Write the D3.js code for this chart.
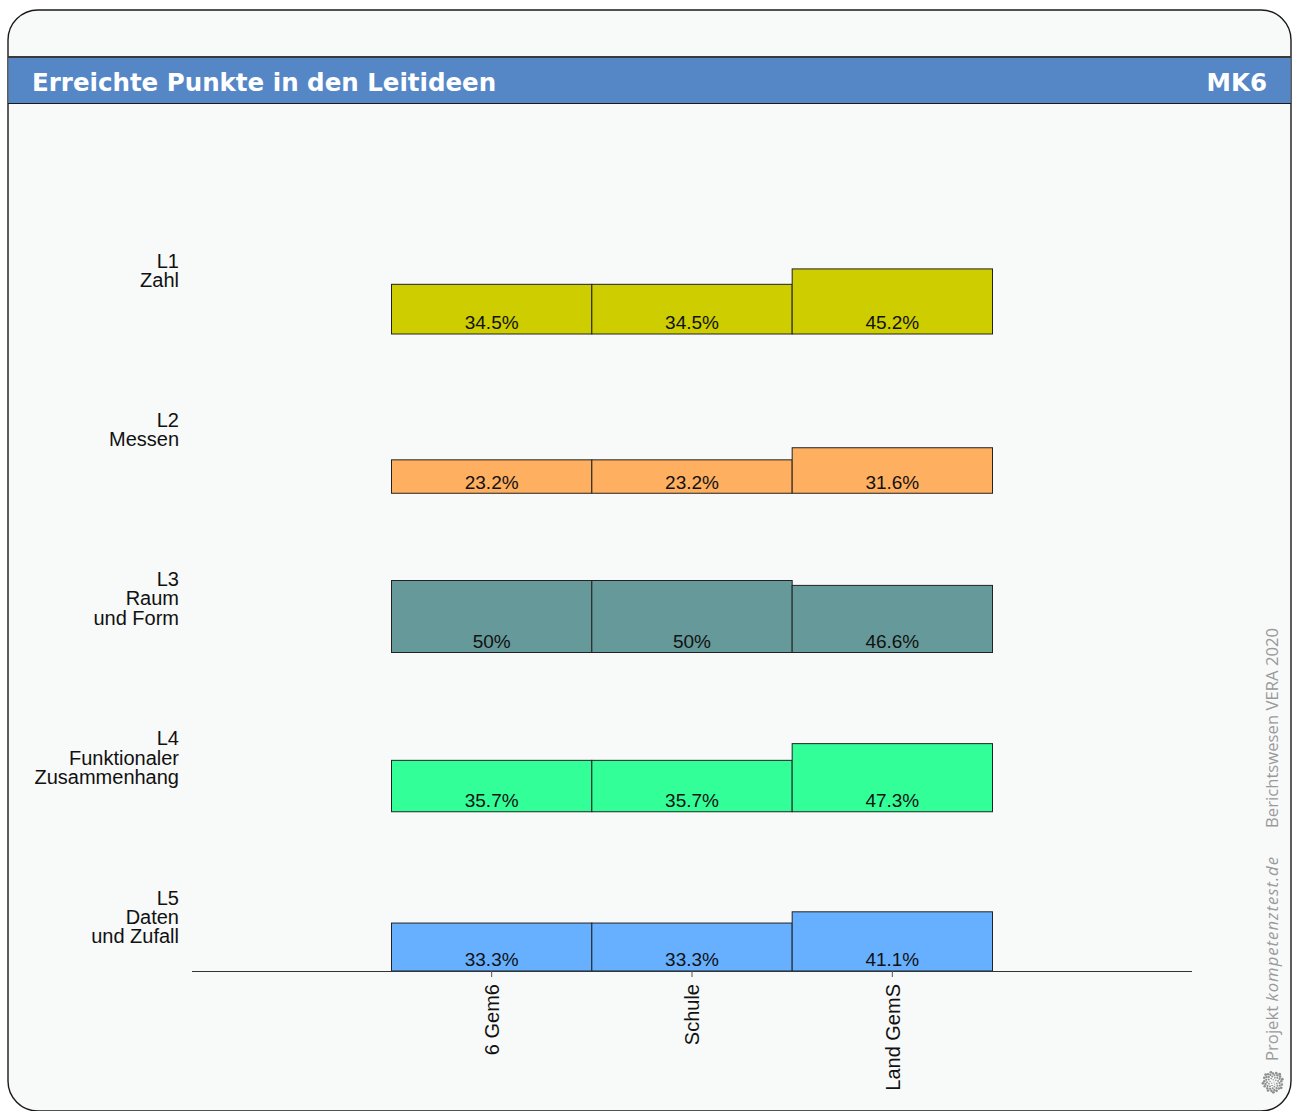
<!DOCTYPE html>
<html>
<head>
<meta charset="utf-8">
<script src="https://cdn.jsdelivr.net/npm/d3@7"></script>
<style>
  html, body { margin: 0; padding: 0; background: #ffffff; }
  svg { display: block; }
</style>
</head>
<body>
<svg id="chart" width="1297" height="1111"></svg>
<script>
// ---- data ----
const title = "Erreichte Punkte in den Leitideen";
const code = "MK6";
const groups = ["6 Gem6", "Schule", "Land GemS"];
const rowLabels = [
  ["L1", "Zahl"],
  ["L2", "Messen"],
  ["L3", "Raum", "und Form"],
  ["L4", "Funktionaler", "Zusammenhang"],
  ["L5", "Daten", "und Zufall"]
];
const rowKeys = ["L1", "L2", "L3", "L4", "L5"];
const valuesL1 = [34.5, 34.5, 45.2];
const valuesL2 = [23.2, 23.2, 31.6];
const valuesL3 = [50, 50, 46.6];
const valuesL4 = [35.7, 35.7, 47.3];
const valuesL5 = [33.3, 33.3, 41.1];
const valueLabelsL1 = ["34.5%", "34.5%", "45.2%"];
const valueLabelsL2 = ["23.2%", "23.2%", "31.6%"];
const valueLabelsL3 = ["50%", "50%", "46.6%"];
const valueLabelsL4 = ["35.7%", "35.7%", "47.3%"];
const valueLabelsL5 = ["33.3%", "33.3%", "41.1%"];
const rowColors = ["#cdcd00", "#ffaf60", "#669999", "#33ff99", "#66b0ff"];
const footerLeft = "Projekt ";
const footerItalic = "kompetenztest.de";
const footerRight = "Berichtswesen VERA 2020";

const allValues = [valuesL1, valuesL2, valuesL3, valuesL4, valuesL5];
const allLabels = [valueLabelsL1, valueLabelsL2, valueLabelsL3, valueLabelsL4, valueLabelsL5];

const svg = d3.select("#chart");

// frame
svg.append("rect").attr("x", 8).attr("y", 10).attr("width", 1283).attr("height", 1101)
  .attr("rx", 30).attr("ry", 30)
  .attr("fill", "#f8f9f9").attr("stroke", "#1a1a1a").attr("stroke-width", 1.4);

// header band
svg.append("rect").attr("x", 8.5).attr("y", 57).attr("width", 1282).attr("height", 46)
  .attr("fill", "#5587c7");
svg.append("line").attr("x1", 8).attr("x2", 1291).attr("y1", 57).attr("y2", 57)
  .attr("stroke", "#3a3a3a").attr("stroke-width", 2);
svg.append("line").attr("x1", 8).attr("x2", 1291).attr("y1", 103.5).attr("y2", 103.5)
  .attr("stroke", "#1a1a1a").attr("stroke-width", 1.2);
svg.append("text").attr("x", 32).attr("y", 90.5).text(title)
  .attr("fill", "#ffffff").attr("font-family", "'DejaVu Sans', sans-serif")
  .attr("font-weight", "bold").attr("font-size", 24.5);
svg.append("text").attr("x", 1267).attr("y", 90.5).text(code)
  .attr("text-anchor", "end")
  .attr("fill", "#ffffff").attr("font-family", "'DejaVu Sans', sans-serif")
  .attr("font-weight", "bold").attr("font-size", 24.5);

// scales
const x = d3.scaleBand().domain(groups).range([391.5, 992.5]).paddingInner(0).paddingOuter(0);
const axisRange = [192, 1192];
const rowY = d3.scalePoint().domain(rowKeys).range([334, 971]);
const h = d3.scaleLinear().domain([0, 100]).range([0, 144]);

const font = "'Liberation Sans', Arial, Helvetica, sans-serif";

rowKeys.forEach((key, i) => {
  const base = rowY(key);
  const g = svg.append("g");
  const data = groups.map((grp, j) => ({ grp, v: allValues[i][j], lab: allLabels[i][j] }));
  g.selectAll("rect").data(data).join("rect")
    .attr("x", d => x(d.grp))
    .attr("y", d => base - h(d.v))
    .attr("width", x.bandwidth())
    .attr("height", d => h(d.v))
    .attr("fill", rowColors[i])
    .attr("stroke", "#222").attr("stroke-width", 1);
  g.selectAll("text.val").data(data).join("text").attr("class", "val")
    .attr("x", d => x(d.grp) + x.bandwidth() / 2)
    .attr("y", base - 4.7)
    .attr("text-anchor", "middle")
    .attr("font-family", font).attr("font-size", 19)
    .attr("fill", "#111")
    .text(d => d.lab);
  // row label
  const t = svg.append("text").attr("text-anchor", "end")
    .attr("font-family", font).attr("font-size", 20).attr("fill", "#111");
  rowLabels[i].forEach((line, k) => {
    t.append("tspan").attr("x", 179).attr("y", base - 66.5 + k * 19.4).text(line);
  });
});

// x axis
const axisY = rowY("L5");
svg.append("line").attr("x1", axisRange[0]).attr("x2", axisRange[1])
  .attr("y1", axisY + 0.5).attr("y2", axisY + 0.5)
  .attr("stroke", "#333").attr("stroke-width", 1.2);
groups.forEach(grp => {
  const cx = x(grp) + x.bandwidth() / 2;
  svg.append("line").attr("x1", cx).attr("x2", cx).attr("y1", axisY).attr("y2", axisY + 6)
    .attr("stroke", "#555").attr("stroke-width", 1);
  svg.append("text")
    .attr("transform", `translate(${cx},${axisY + 13}) rotate(-90)`)
    .attr("text-anchor", "end").attr("dy", "0.36em")
    .attr("font-family", font).attr("font-size", 20).attr("fill", "#111")
    .text(grp);
});

// footer side text
const side = svg.append("text")
  .attr("transform", "translate(1278,1061) rotate(-90)")
  .attr("font-family", "'Open Sans', sans-serif").attr("font-size", 16.7).attr("fill", "#9a9a9a");
side.append("tspan").text(footerLeft);
side.append("tspan").attr("font-style", "italic").attr("letter-spacing", 1).text(footerItalic);
svg.append("text")
  .attr("transform", "translate(1278,828) rotate(-90)")
  .attr("font-family", "'Open Sans', sans-serif").attr("font-size", 16.7).attr("fill", "#9a9a9a")
  .text(footerRight);

// logo: dotted disc
const logo = svg.append("g").attr("transform", "translate(1273,1082)");
const golden = Math.PI * (3 - Math.sqrt(5));
d3.range(55).forEach(k => {
  const r = 10.5 * Math.sqrt((k + 0.5) / 55);
  const a = k * golden;
  logo.append("circle").attr("cx", r * Math.cos(a)).attr("cy", r * Math.sin(a))
    .attr("r", 0.5 + 0.9 * (r / 10.5)).attr("fill", "#8f8f8f");
});
</script>
</body>
</html>
